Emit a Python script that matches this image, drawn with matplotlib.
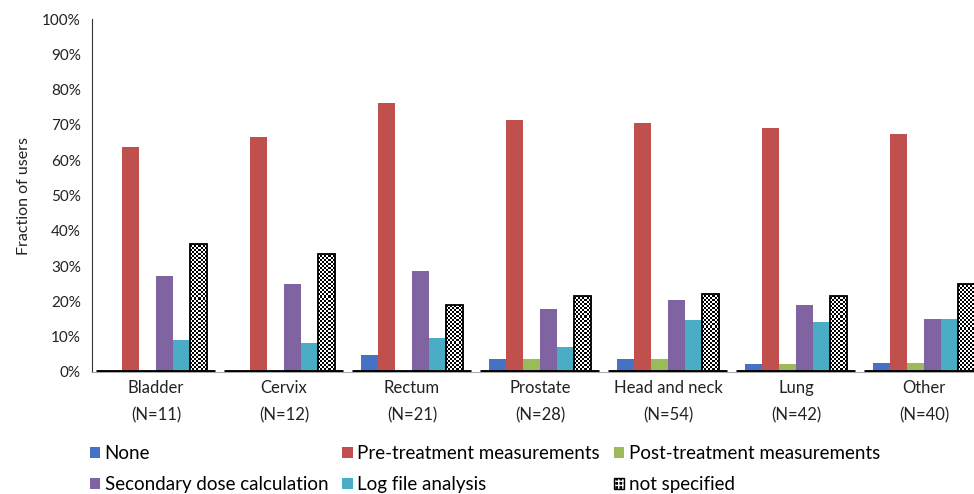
import numpy as np
import matplotlib.pyplot as plt
from matplotlib.patches import Patch
from matplotlib.legend_handler import HandlerTuple

# Datos (fraccion de usuarios en %)
sites = ['Bladder', 'Cervix', 'Rectum', 'Prostate', 'Head and neck', 'Lung', 'Other']
n_users = [11, 12, 21, 28, 54, 42, 40]

none_vals = [0.0, 0.0, 4.8, 3.6, 3.7, 2.4, 2.5]
pre_vals = [63.6, 66.7, 76.2, 71.4, 70.4, 69.0, 67.5]
post_vals = [0.0, 0.0, 0.0, 3.6, 3.7, 2.4, 2.5]
second_vals = [27.3, 25.0, 28.6, 17.9, 20.4, 19.0, 15.0]
logfile_vals = [9.1, 8.3, 9.5, 7.1, 14.8, 14.3, 15.0]
unspec_vals = [36.4, 33.3, 19.0, 21.4, 22.2, 21.4, 25.0]

series_names = ['None', 'Pre-treatment measurements', 'Post-treatment measurements',
                'Secondary dose calculation', 'Log file analysis', 'not specified']
colors = ['#4472C4', '#C0504D', '#9BBB59', '#8064A2', '#4BACC6', 'black']

plt.rcParams['font.family'] = ['Lato', 'DejaVu Sans']
plt.rcParams['hatch.linewidth'] = 1.0

fig = plt.figure(figsize=(9.74, 4.94), dpi=100)
ax = fig.add_axes([0.0945, 0.247, 0.9055, 0.7145])
ax.set_xlim(-0.5, 6.39)
ax.set_ylim(0, 1.0)

# tablero de ajedrez (celdas de ~2 px) para la serie "not specified"
ny, nx = 176, 441
checker = (np.add.outer(np.arange(ny), np.arange(nx)) % 2).astype(float)

x = np.arange(len(sites))
w = 0.133
all_vals = [none_vals, pre_vals, post_vals, second_vals, logfile_vals, unspec_vals]
handles = []
for k, (vals, name, col) in enumerate(zip(all_vals, series_names, colors)):
    pos = x + (k - 2.5) * w
    v = np.array(vals) / 100
    if k < 5:
        ax.bar(pos, v, width=w, color=col, edgecolor='none', zorder=2)
        handles.append(Patch(facecolor=col, edgecolor='none'))
    else:
        bars = ax.bar(pos, v, width=w, color='none', edgecolor='black',
                      linewidth=1.3, zorder=4)
        for b in bars:
            im = ax.imshow(checker, cmap='gray', vmin=0, vmax=1, interpolation='nearest',
                           extent=(-0.5, 6.39, 0, 1.0), aspect='auto', zorder=3)
            im.set_clip_path(b)
        h1 = Patch(facecolor='black', edgecolor='none')
        h2 = Patch(facecolor='none', edgecolor='white', hatch='++++', linewidth=0)
        h3 = Patch(facecolor='none', edgecolor='black', linewidth=1)
        handles.append((h1, h2, h3))

# linea base gruesa por grupo
ax.hlines(np.zeros(len(sites)), x - 0.47, x + 0.46, colors='black', linewidth=3.5, zorder=5)

ax.set_xlim(-0.5, 6.39)
ax.set_ylim(0, 1.0)
ax.set_yticks(np.arange(0, 1.01, 0.1))
ax.set_yticklabels([f'{int(round(t * 100))}%' for t in np.arange(0, 1.01, 0.1)], fontsize=11)
ax.set_xticks(x)
ax.set_xticklabels([f'{s}\n(N={n})' for s, n in zip(sites, n_users)], fontsize=12,
                   linespacing=1.8)
ax.tick_params(axis='both', length=0, colors='#222222')
ax.tick_params(axis='x', pad=6)
ax.tick_params(axis='y', pad=8)
ax.set_ylabel('Fraction of users', fontsize=11.5, color='#222222', labelpad=8)

for s in ['top', 'right']:
    ax.spines[s].set_visible(False)
ax.spines['left'].set_color('#333333')
ax.spines['bottom'].set_color('#999999')
ax.spines['bottom'].set_linewidth(0.6)

order = [0, 3, 1, 4, 2, 5]
fig.legend([handles[i] for i in order], [series_names[i] for i in order],
           ncol=3, loc='upper left', bbox_to_anchor=(0.092, 0.099), frameon=False,
           fontsize=13.5, handlelength=0.55, handleheight=0.55, handletextpad=0.25,
           columnspacing=0.75, labelspacing=0.75, borderaxespad=0, borderpad=0,
           handler_map={tuple: HandlerTuple(ndivide=1, pad=0)})

plt.savefig('out.png', dpi=100)
